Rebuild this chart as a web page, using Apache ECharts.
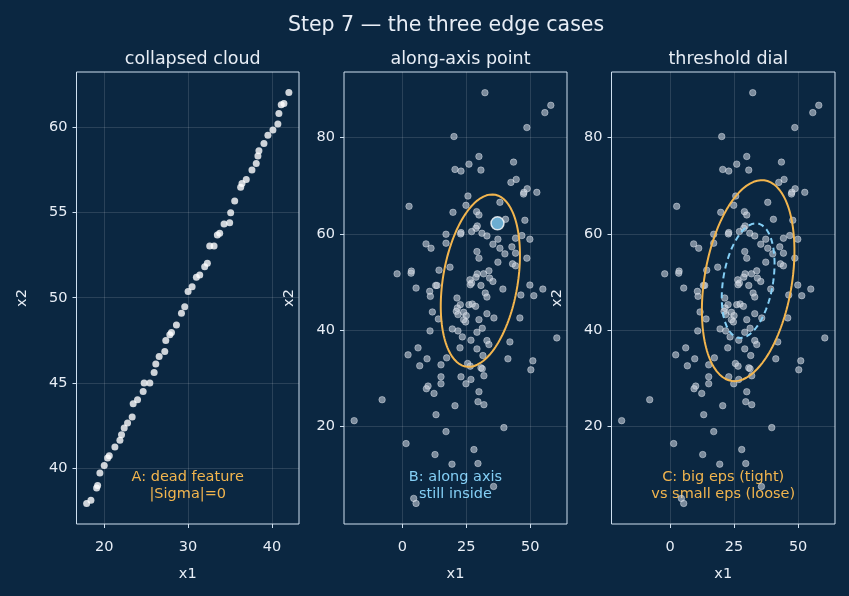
<!DOCTYPE html>
<html><head><meta charset="utf-8">
<script src="https://cdn.jsdelivr.net/npm/echarts@6/dist/echarts.min.js"></script>
<style>html,body{margin:0;padding:0;background:#0b2741;}#c{width:849px;height:596px;}</style>
</head><body><div id="c"></div>
<script>
// Panel A: collapsed cloud
const collapsedX = [17.90,18.41,19.09,19.21,19.48,20.00,20.40,20.60,21.27,21.87,22.06,22.38,22.78,23.33,23.45,23.97,24.64,24.76,25.44,25.95,26.15,26.55,27.22,27.34,27.82,28.02,28.61,29.21,29.60,30.00,30.48,30.99,31.39,31.98,32.30,32.58,33.10,33.49,33.77,34.29,34.96,35.08,35.56,36.27,36.43,36.94,37.62,38.13,38.33,38.45,39.05,39.52,40.12,40.71,40.83,41.11,41.43,42.02];
const collapsedY = [37.96,38.15,38.87,39.01,39.75,40.18,40.62,40.76,41.27,41.66,41.99,42.38,42.67,43.02,43.80,44.03,44.52,45.01,45.01,45.63,46.13,46.56,46.85,47.50,47.83,47.96,48.41,49.09,49.48,50.36,50.65,51.20,51.33,51.82,52.02,53.03,53.03,53.67,53.77,54.31,54.39,54.98,55.66,56.46,56.69,56.92,57.47,57.86,58.29,58.60,59.03,59.51,59.81,60.16,60.78,61.30,61.36,62.01];

// Panels B and C: shared cloud
const cloudX = [32.29,58.07,55.73,48.70,20.18,29.95,43.49,26.04,20.57,22.92,30.73,44.53,42.45,48.83,47.53,47.40,52.60,25.65,2.60,24.87,38.15,19.79,29.04,29.95,47.92,40.36,29.30,28.78,27.08,22.92,22.79,31.12,33.07,17.06,46.74,49.87,37.37,44.27,9.24,11.20,17.06,35.42,38.15,42.84,29.17,40.10,44.27,29.95,48.70,37.37,43.10,44.27,-2.08,3.52,3.39,14.32,18.62,33.85,31.77,29.30,28.78,34.11,35.42,26.43,27.08,26.56,30.73,49.87,54.95,39.32,5.34,13.02,13.54,
  10.68,10.94,21.35,32.42,33.07,46.35,51.43,22.66,21.48,21.09,21.74,26.04,27.34,28.65,11.72,23.96,25.00,14.06,23.96,24.74,33.07,35.81,29.95,45.96,10.81,19.53,21.74,31.25,29.17,23.44,26.82,33.07,33.85,42.06,60.42,6.12,22.53,29.17,2.21,9.64,17.32,31.51,41.28,51.04,6.77,15.10,25.52,26.56,30.73,31.25,50.26,22.92,26.82,24.87,31.90,15.10,15.10,10.03,9.38,12.37,29.95,29.56,31.90,20.57,-7.94,13.15,-18.88,17.06,39.71,1.43,12.76,27.99,19.40,29.56,35.68,4.43,5.34];
const cloudY = [89.31,86.69,85.17,82.07,80.21,76.07,74.90,74.48,73.38,73.03,73.24,71.31,70.69,69.38,68.62,68.28,68.62,67.86,65.72,65.93,66.55,64.48,64.62,63.93,62.83,63.03,61.66,61.17,60.48,60.28,60.00,60.14,59.59,59.93,59.66,58.90,58.90,59.10,57.93,57.03,58.07,57.86,57.03,57.31,56.34,55.86,56.00,54.97,54.97,54.14,53.79,53.38,51.72,52.28,51.86,52.48,53.10,52.34,51.72,51.72,51.03,50.83,50.14,50.48,49.79,49.45,49.31,49.38,48.55,48.55,48.76,49.31,49.31,
  48.08,47.04,46.70,47.73,46.90,47.32,47.18,45.32,44.63,43.94,43.25,45.32,45.45,44.97,43.80,43.73,43.04,42.35,42.21,41.73,43.45,42.56,42.21,42.56,39.87,40.28,39.87,40.42,39.59,38.63,37.94,37.87,37.04,37.59,38.42,36.35,36.35,36.14,34.90,34.08,34.28,34.76,34.08,33.66,32.63,32.83,33.11,32.56,32.21,32.01,31.80,30.35,29.80,28.90,30.56,30.35,28.90,28.42,27.87,26.90,27.25,25.18,24.56,24.35,25.59,22.49,21.25,18.97,19.80,16.49,14.21,15.25,12.21,12.35,7.59,5.11,4.07];

const probePoint = [37.2, 62.2];

// Ellipse: centre, shape matrix [xx, xy, yy], and radius scales
const ellipseCenter = [30.5, 50.3];
const ellipseShape = [240, 82, 320];
const scaleB = 1.0;
const scaleBigEps = 1.166;
const scaleSmallEps = 0.665;

// Tick labels
const ticksA_x = [20, 30, 40];
const ticksA_y = [40, 45, 50, 55, 60];
const ticksBC_x = [0, 25, 50];
const ticksBC_y = [20, 40, 60, 80];

function zip(xs, ys){ return xs.map((x,i)=>[x, ys[i]]); }
function ellipse(c, S, s){
  const l11 = Math.sqrt(S[0]), l21 = S[1]/l11, l22 = Math.sqrt(S[2]-l21*l21);
  const pts = [];
  for (let i=0;i<=160;i++){
    const t = 2*Math.PI*i/160;
    pts.push([c[0] + s*l11*Math.cos(t), c[1] + s*(l21*Math.cos(t) + l22*Math.sin(t))]);
  }
  return pts;
}

const FONT = 'DejaVu Sans';
const TXT = '#e8eef6';
const SPINE = '#cfe0f0';
const GRIDC = 'rgba(255,255,255,0.13)';
const ORANGE = '#f2b54e';
const BLUE = '#84cff5';
const TICKFS = 14.5;

const grids = [
  {left: 76.5, top: 72, width: 222.5, height: 452},
  {left: 344, top: 72, width: 223, height: 452},
  {left: 611.5, top: 72, width: 223.5, height: 452}
];
const centers = grids.map(g => g.left + g.width/2);

function xAx(i, min, max, ticks){
  return {type:'value', gridIndex:i, min, max, name:'x1', nameLocation:'middle', nameGap:43,
    nameTextStyle:{color:TXT, fontFamily:FONT, fontSize:TICKFS},
    axisLine:{show:false, onZero:false},
    axisTick:{show:true, length:4, customValues:ticks, lineStyle:{color:SPINE}},
    axisLabel:{customValues:ticks, color:TXT, fontFamily:FONT, fontSize:TICKFS, margin:16},
    splitLine:{show:true, lineStyle:{color:GRIDC, width:1}}};
}
function yAx(i, min, max, ticks){
  return {type:'value', gridIndex:i, min, max, name:'x2', nameLocation:'middle', nameGap:47,
    nameTextStyle:{color:TXT, fontFamily:FONT, fontSize:TICKFS},
    axisLine:{show:false, onZero:false},
    axisTick:{show:true, length:4, customValues:ticks, lineStyle:{color:SPINE}},
    axisLabel:{customValues:ticks, color:TXT, fontFamily:FONT, fontSize:TICKFS, margin:9},
    splitLine:{show:true, lineStyle:{color:GRIDC, width:1}}};
}

const cloud = zip(cloudX, cloudY);
const cloudStyle = {color:'rgba(205,212,222,0.72)', borderColor:'rgba(235,240,245,0.55)', borderWidth:1};
const subTitle = (t, x) => ({text:t, left:x, top:45, textAlign:'center', textStyle:{color:TXT, fontFamily:FONT, fontSize:17.5, fontWeight:'normal'}});

const option = {
  backgroundColor:'#0b2741',
  animation:false,
  title:[
    {text:'Step 7 — the three edge cases', left:441, top:10, textAlign:'center', textStyle:{color:TXT, fontFamily:FONT, fontSize:20.5, fontWeight:'normal'}},
    subTitle('collapsed cloud', centers[0]),
    subTitle('along-axis point', centers[1]),
    subTitle('threshold dial', centers[2])
  ],
  grid: grids.map(g=>Object.assign({show:true, borderColor:SPINE, borderWidth:1, backgroundColor:'transparent'}, g)),
  xAxis:[xAx(0,16.69,43.23,ticksA_x), xAx(1,-22.85,64.4,ticksBC_x), xAx(2,-22.85,64.4,ticksBC_x)],
  yAxis:[yAx(0,36.76,63.21,ticksA_y), yAx(1,-0.2,93.6,ticksBC_y), yAx(2,-0.2,93.6,ticksBC_y)],
  series:[
    {type:'scatter', xAxisIndex:0, yAxisIndex:0, data:zip(collapsedX, collapsedY), symbolSize:7, itemStyle:{color:'#ffffff'}},
    {type:'scatter', xAxisIndex:1, yAxisIndex:1, data:cloud, symbolSize:6.5, itemStyle:cloudStyle},
    {type:'line', xAxisIndex:1, yAxisIndex:1, data:ellipse(ellipseCenter, ellipseShape, scaleB), showSymbol:false, symbol:'none', lineStyle:{color:ORANGE, width:2}},
    {type:'scatter', xAxisIndex:1, yAxisIndex:1, data:[probePoint], symbolSize:13, itemStyle:{color:BLUE, borderColor:'#ffffff', borderWidth:1.5}},
    {type:'scatter', xAxisIndex:2, yAxisIndex:2, data:cloud, symbolSize:6.5, itemStyle:cloudStyle},
    {type:'line', xAxisIndex:2, yAxisIndex:2, data:ellipse(ellipseCenter, ellipseShape, scaleBigEps), showSymbol:false, symbol:'none', lineStyle:{color:ORANGE, width:2}},
    {type:'line', xAxisIndex:2, yAxisIndex:2, data:ellipse(ellipseCenter, ellipseShape, scaleSmallEps), showSymbol:false, symbol:'none', lineStyle:{color:BLUE, width:2, type:[6,4]}}
  ],
  graphic:[
    {type:'text', x:centers[0], y:469, style:{text:'A: dead feature\n|Sigma|=0', fill:ORANGE, fontFamily:FONT, fontSize:14.5, align:'center', verticalAlign:'top', lineHeight:17}},
    {type:'text', x:centers[1], y:469, style:{text:'B: along axis\nstill inside', fill:BLUE, fontFamily:FONT, fontSize:14.5, align:'center', verticalAlign:'top', lineHeight:17}},
    {type:'text', x:centers[2], y:469, style:{text:'C: big eps (tight)\nvs small eps (loose)', fill:ORANGE, fontFamily:FONT, fontSize:14.5, align:'center', verticalAlign:'top', lineHeight:17}}
  ]
};
const chart = echarts.init(document.getElementById('c'), null, {renderer:'canvas'});
chart.setOption(option);
</script></body></html>
